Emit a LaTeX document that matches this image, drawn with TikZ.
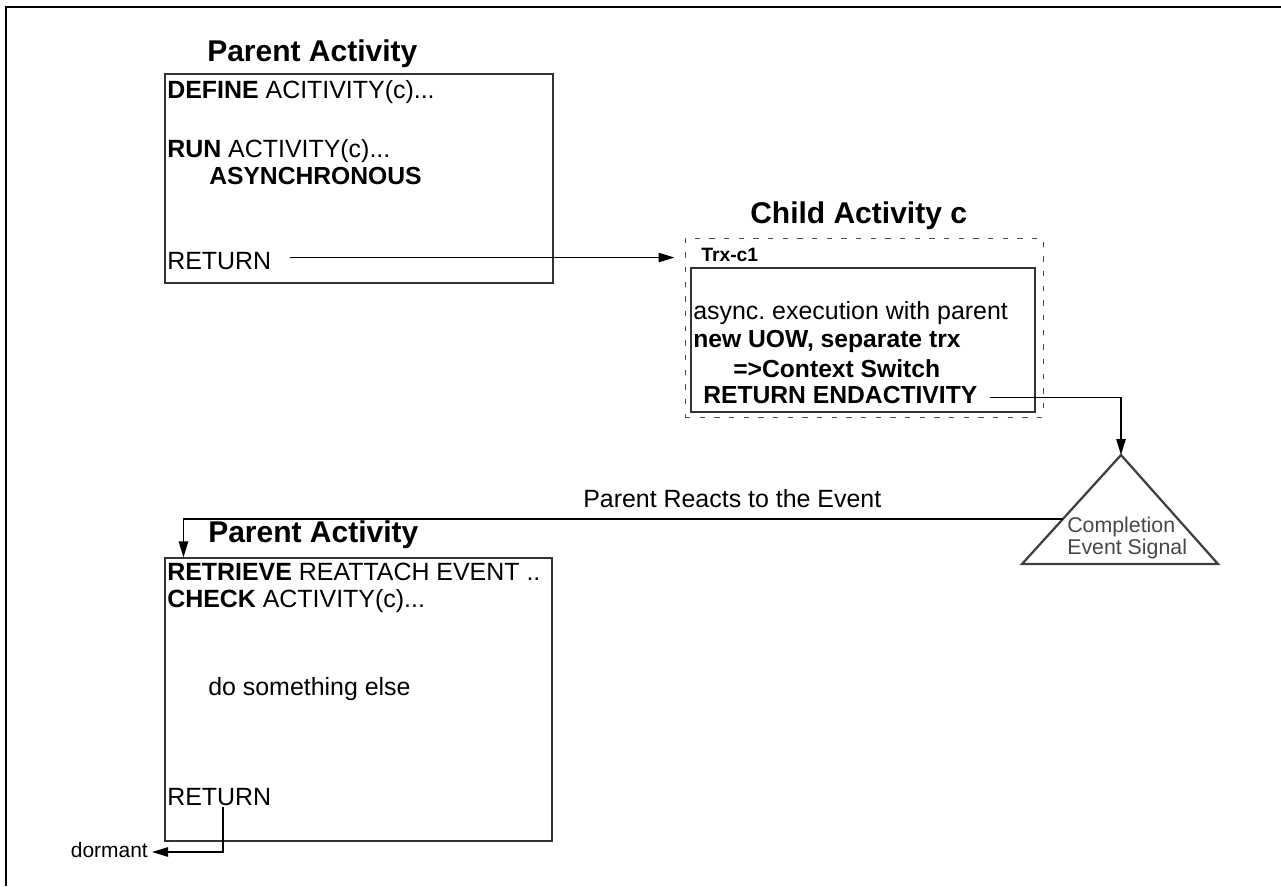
\documentclass[tikz,border=0pt]{standalone}
\usepackage{fontspec}
\setmainfont{Liberation Sans}
\usetikzlibrary{arrows.meta,fit,calc}
\frenchspacing
\begin{document}
\begin{tikzpicture}[x=0.75pt,y=-0.75pt,
  txt/.style={anchor=base west,inner sep=0pt,font=\fontsize{18.7}{20}\selectfont},
  btxt/.style={txt,font=\fontsize{18.5}{20}\selectfont\bfseries},
  ttl/.style={anchor=base west,inner sep=0pt,font=\fontsize{22.5}{26}\selectfont\bfseries},
  box/.style={draw=black!80,line width=0.8pt,inner sep=0pt},
  conn/.style={draw=black,line width=1.15pt},
  arr/.style={conn,-{Triangle[length=12pt,width=7pt]}},
  sigtxt/.style={anchor=base west,inner sep=0pt,text=black!72,font=\fontsize{16}{18}\selectfont},
]
\useasboundingbox (0,0) rectangle (1281,886);

% outer frame
\draw[line width=1.5pt] (6,886) -- (6,7) -- (1281,7);

% parent activity, first part
\node[ttl] (t1) at (207,61) {Parent Activity};
\node[box,fit={(165,74) (553,283)}] (p1) {};
\node[txt] (l1a) at (167,98)  {\textbf{DEFINE} ACITIVITY(c)...};
\node[txt] (l1b) at (167,157) {\textbf{RUN} ACTIVITY(c)...};
\node[btxt] (l1c) at (209,184) {ASYNCHRONOUS};
\node[txt] (ret1) at (167,269) {RETURN};

% child activity
\node[ttl] (t2) at (750,223) {Child Activity c};
\node[draw=black!70,line width=0.75pt,dash pattern=on 4pt off 7pt,inner sep=0pt,
      fit={(685,238) (1043,417)}] (cout) {};
\node[box,fit={(691,268) (1035,412)}] (cin) {};
\node[anchor=base west,inner sep=0pt,font=\fontsize{14.5}{16}\selectfont\bfseries] (trx) at (701,261) {Trx-c1};
\node[txt] (c1) at (693,319) {async. execution with parent};
\node[btxt] (c2) at (693,347) {new UOW, separate trx};
\node[btxt] (c3) at (733,377) {=>Context Switch};
\node[btxt] (retend) at (703,403) {RETURN ENDACTIVITY};

% completion event signal
\coordinate (apex) at (1121,455);
\coordinate (tl) at (1022,564);
\coordinate (tr) at (1218,564);
\draw[line width=1.7pt,draw=black!75,line join=miter] (apex) -- (tl) -- (tr) -- cycle;
\node[sigtxt] (s1) at (1067,532) {Completion};
\node[sigtxt] (s2) at (1067,554) {Event Signal};

% parent activity, after the event
\node[ttl] (t3) at (208,542) {Parent Activity};
\node[box,fit={(165,558) (552,841)}] (p3) {};
\node[txt] (r1) at (167,580) {\textbf{RETRIEVE} REATTACH EVENT ..};
\node[txt] (r2) at (167,607) {\textbf{CHECK} ACTIVITY(c)...};
\node[txt] (r3) at (208,695) {do something else};
\node[txt] (ret3) at (167,805) {RETURN};
\node[anchor=base east,inner sep=0pt,font=\fontsize{15.7}{17}\selectfont] (dorm) at (148,857) {dormant};

\node[txt] (react) at (583,507) {Parent Reacts to the Event};

% connectors
\coordinate (r1out) at ([shift={(19,-3)}]ret1.east);
\draw[arr,shorten >=7.5pt] (r1out) -- (r1out -| cout.west);

\coordinate (eout) at ([shift={(12,3)}]retend.east);
\draw[arr] (eout) -| (apex);

\coordinate (edge) at ($(apex)!0.587!(tl)$);
\coordinate (p3in) at ($(p3.north west)+(19,0)$);
\draw[arr] (edge) -| (p3in);

\coordinate (d0) at ($(ret3.base west)+(56,2)$);
\coordinate (dtip) at ($(dorm.base east)+(4,-5)$);
\draw[arr] (d0) |- (dtip);
\end{tikzpicture}
\end{document}
